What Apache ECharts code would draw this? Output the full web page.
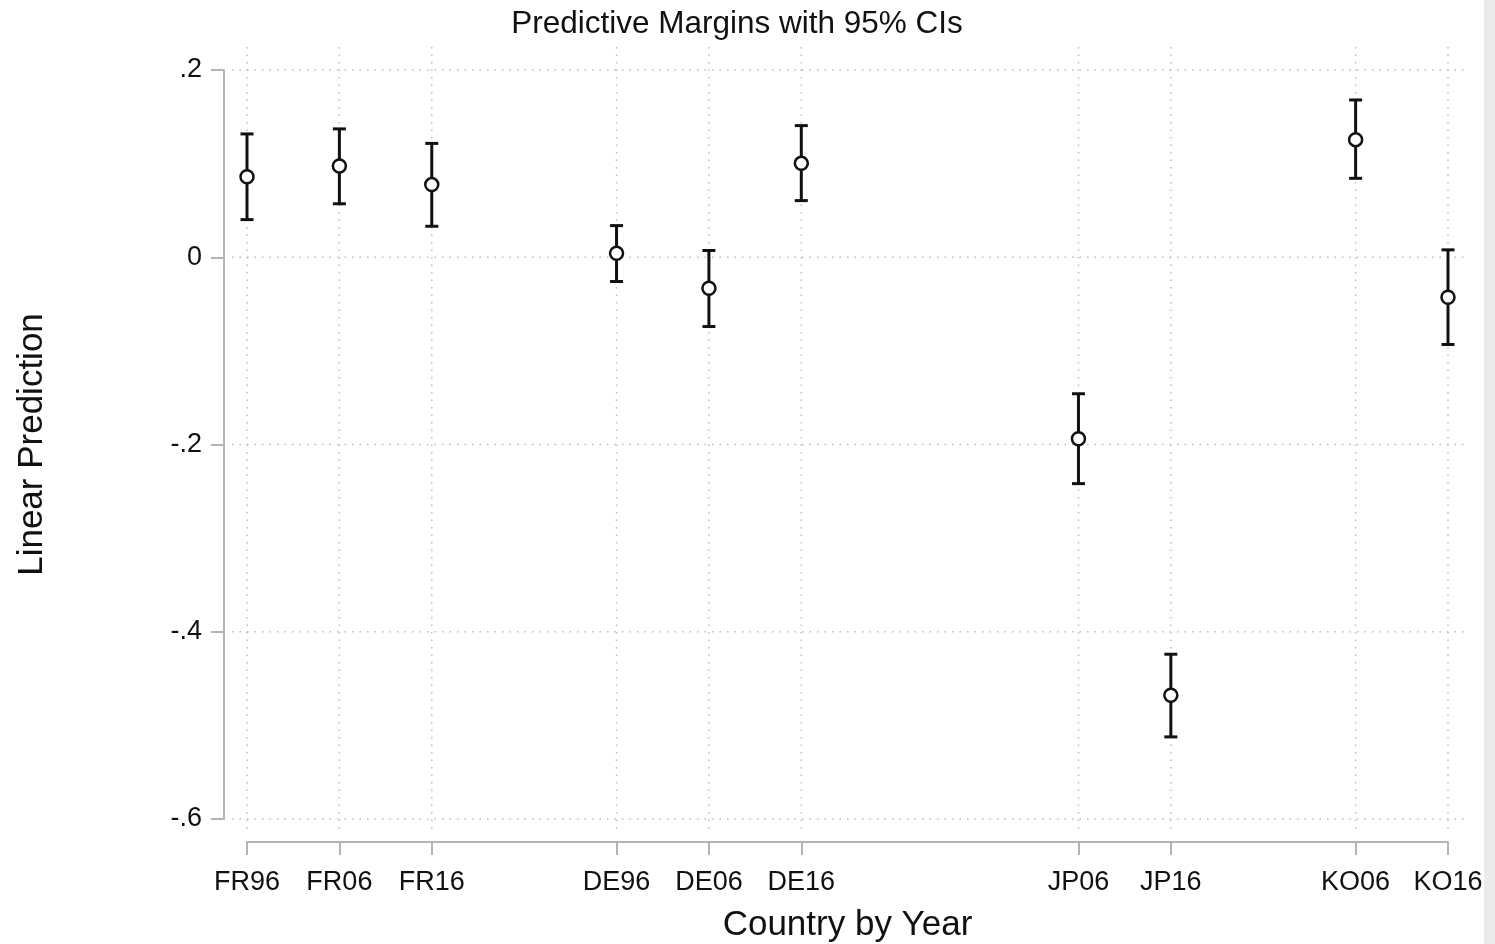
<!DOCTYPE html>
<html>
<head>
<meta charset="utf-8">
<script src="https://cdn.jsdelivr.net/npm/echarts@6/dist/echarts.min.js"></script>
<style>
html, body { margin: 0; padding: 0; background: #fff; }
#chart { width: 1495px; height: 944px; }
</style>
</head>
<body>
<div id="chart"></div>
<script>
// x slots: the plot leaves empty slots between countries
const slotCount = 14;
const slotIndex = [0, 1, 2, 4, 5, 6, 9, 10, 12, 13];
const labels = ['FR96', 'FR06', 'FR16', 'DE96', 'DE06', 'DE16', 'JP06', 'JP16', 'KO06', 'KO16'];
const margins = [0.086, 0.0975, 0.0776, 0.0043, -0.0331, 0.1003, -0.1938, -0.4678, 0.1256, -0.0427];
const ciLow = [0.0402, 0.0571, 0.0331, -0.0259, -0.074, 0.0605, -0.2418, -0.5123, 0.0843, -0.0932];
const ciHigh = [0.1317, 0.1371, 0.1216, 0.0338, 0.0072, 0.1406, -0.1458, -0.424, 0.168, 0.0079];
const yTicks = [0.2, 0, -0.2, -0.4, -0.6];

const categories = [];
for (let i = 0; i < slotCount; i++) {
    const k = slotIndex.indexOf(i);
    categories.push(k >= 0 ? labels[k] : '_' + i);
}
const isLabel = (idx) => slotIndex.indexOf(idx) >= 0;

const barData = slotIndex.map((s, i) => [s, ciLow[i], ciHigh[i]]);
const pointData = slotIndex.map((s, i) => [s, margins[i]]);

const fontFam = '"Liberation Sans", Arial, sans-serif';
const gridColor = '#bdbdbd';
const axisColor = '#b4b4b4';

const chart = echarts.init(document.getElementById('chart'));
chart.setOption({
    backgroundColor: '#fff',
    animation: false,
    title: {
        text: 'Predictive Margins with 95% CIs',
        left: 732,
        top: 3,
        textAlign: 'center',
        textStyle: { fontFamily: fontFam, fontSize: 31.5, fontWeight: 'normal', color: '#111' }
    },
    graphic: [{
        type: 'rect',
        right: 0,
        top: 0,
        shape: { width: 11, height: 944 },
        style: { fill: '#ebebeb' }
    }],
    grid: { left: 247, right: 47, top: 70, bottom: 125, outerBoundsMode: 'none', containLabel: false },
    xAxis: {
        type: 'category',
        data: categories,
        boundaryGap: false,
        offset: 23,
        name: 'Country by Year',
        nameLocation: 'middle',
        nameGap: 66,
        nameTextStyle: { fontFamily: fontFam, fontSize: 35, color: '#111' },
        axisLine: { onZero: false, lineStyle: { color: axisColor, width: 2 } },
        axisTick: {
            alignWithLabel: true,
            length: 13,
            interval: (idx) => isLabel(idx),
            lineStyle: { color: axisColor, width: 2 }
        },
        axisLabel: {
            interval: (idx) => isLabel(idx),
            margin: 27,
            fontFamily: fontFam,
            fontSize: 27,
            color: '#111',
            formatter: (v) => (v.charAt(0) === '_' ? '' : v)
        },
        splitLine: { show: false }
    },
    yAxis: {
        type: 'value',
        min: -0.6,
        max: 0.2,
        interval: 0.2,
        offset: 23,
        name: 'Linear Prediction',
        nameLocation: 'middle',
        nameRotate: 90,
        nameGap: 174,
        nameTextStyle: { fontFamily: fontFam, fontSize: 35, color: '#111' },
        axisLine: { show: true, onZero: false, lineStyle: { color: axisColor, width: 2 } },
        axisTick: { show: true, length: 13, lineStyle: { color: axisColor, width: 2 } },
        axisLabel: {
            margin: 22,
            fontFamily: fontFam,
            fontSize: 27,
            color: '#111',
            formatter: (v) => {
                const r = Math.round(v * 10) / 10;
                if (r === 0) return '0';
                return String(r).replace('0.', '.');
            }
        },
        splitLine: { show: false }
    },
    series: [
        {
            // dotted grid, drawn a bit past the data range like the original
            type: 'custom',
            z: 1,
            silent: true,
            data: slotIndex.map((s) => [s, null]).concat(yTicks.map((t) => [null, t])),
            renderItem: (params, api) => {
                const cs = params.coordSys;
                const style = { stroke: gridColor, lineWidth: 1.5, lineDash: [1.5, 6] };
                const xv = api.value(0);
                if (xv != null && !isNaN(xv) && xv !== '-') {
                    const x = api.coord([xv, 0])[0];
                    return { type: 'line', shape: { x1: x, y1: cs.y - 23, x2: x, y2: cs.y + cs.height + 14 }, style };
                }
                const y = api.coord([0, api.value(1)])[1];
                return { type: 'line', shape: { x1: cs.x - 15, y1: y, x2: cs.x + cs.width + 19, y2: y }, style };
            }
        },
        {
            type: 'custom',
            z: 2,
            data: barData,
            renderItem: (params, api) => {
                const lo = api.coord([api.value(0), api.value(1)]);
                const hi = api.coord([api.value(0), api.value(2)]);
                const half = 6.5;
                const style = { stroke: '#111', lineWidth: 3 };
                return {
                    type: 'group',
                    children: [
                        { type: 'line', shape: { x1: lo[0], y1: lo[1], x2: hi[0], y2: hi[1] }, style },
                        { type: 'line', shape: { x1: lo[0] - half, y1: lo[1], x2: lo[0] + half, y2: lo[1] }, style },
                        { type: 'line', shape: { x1: hi[0] - half, y1: hi[1], x2: hi[0] + half, y2: hi[1] }, style }
                    ]
                };
            }
        },
        {
            type: 'scatter',
            z: 3,
            data: pointData,
            symbol: 'circle',
            symbolSize: 13,
            itemStyle: { color: '#fff', borderColor: '#111', borderWidth: 2.5, opacity: 1 }
        }
    ]
});
</script>
</body>
</html>
